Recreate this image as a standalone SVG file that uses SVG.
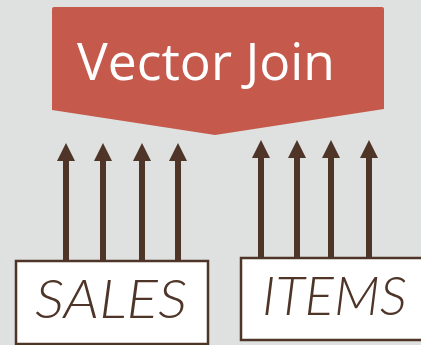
<svg xmlns="http://www.w3.org/2000/svg" width="421" height="345" viewBox="0 0 421 345">
  <style>
    .conn { stroke: #4e3528; stroke-width: 6; fill: none; }
    .box { fill: #ffffff; stroke: #4e3528; stroke-width: 2.5; }
    .lbl { font-family: Lato, "Open Sans", sans-serif; font-style: italic; font-weight: 300; font-size: 53px; fill: #4e3528; }
    .title { font-family: "Open Sans", "Noto Sans", sans-serif; font-size: 52px; fill: #ffffff; }
  </style>
  <defs>
    <marker id="ah" markerUnits="userSpaceOnUse" markerWidth="18" markerHeight="18" viewBox="0 0 18 18" refX="1" refY="9" orient="auto">
      <path d="M0,0 L18,9 L0,18 z" fill="#4e3528"/>
    </marker>
  </defs>
  <rect width="421" height="345" fill="#dfe1e0"/>
  <g id="vector-join">
    <path d="M54,7 L382,7 Q384,7 384,9 L384,109 L215,135 L52,110 L52,9 Q52,7 54,7 Z" fill="#c55a4c"/>
    <text class="title" x="77" y="80" textLength="258" lengthAdjust="spacingAndGlyphs">Vector Join</text>
  </g>
  <g id="connectors">
    <line class="conn" x1="66" y1="261" x2="66" y2="160" marker-end="url(#ah)"/>
    <line class="conn" x1="103" y1="261" x2="103" y2="160" marker-end="url(#ah)"/>
    <line class="conn" x1="142" y1="261" x2="142" y2="160" marker-end="url(#ah)"/>
    <line class="conn" x1="178" y1="261" x2="178" y2="160" marker-end="url(#ah)"/>
    <line class="conn" x1="261" y1="258" x2="261" y2="157" marker-end="url(#ah)"/>
    <line class="conn" x1="297" y1="258" x2="297" y2="157" marker-end="url(#ah)"/>
    <line class="conn" x1="331" y1="258" x2="331" y2="157" marker-end="url(#ah)"/>
    <line class="conn" x1="369" y1="258" x2="369" y2="157" marker-end="url(#ah)"/>
  </g>
  <g id="sales">
    <rect class="box" x="16" y="261" width="192" height="83"/>
    <text class="lbl" x="35" y="318" textLength="152" lengthAdjust="spacingAndGlyphs">SALES</text>
  </g>
  <g id="items">
    <rect class="box" x="241" y="258" width="190" height="82"/>
    <text class="lbl" x="262" y="315" textLength="145" lengthAdjust="spacingAndGlyphs">ITEMS</text>
  </g>
</svg>
